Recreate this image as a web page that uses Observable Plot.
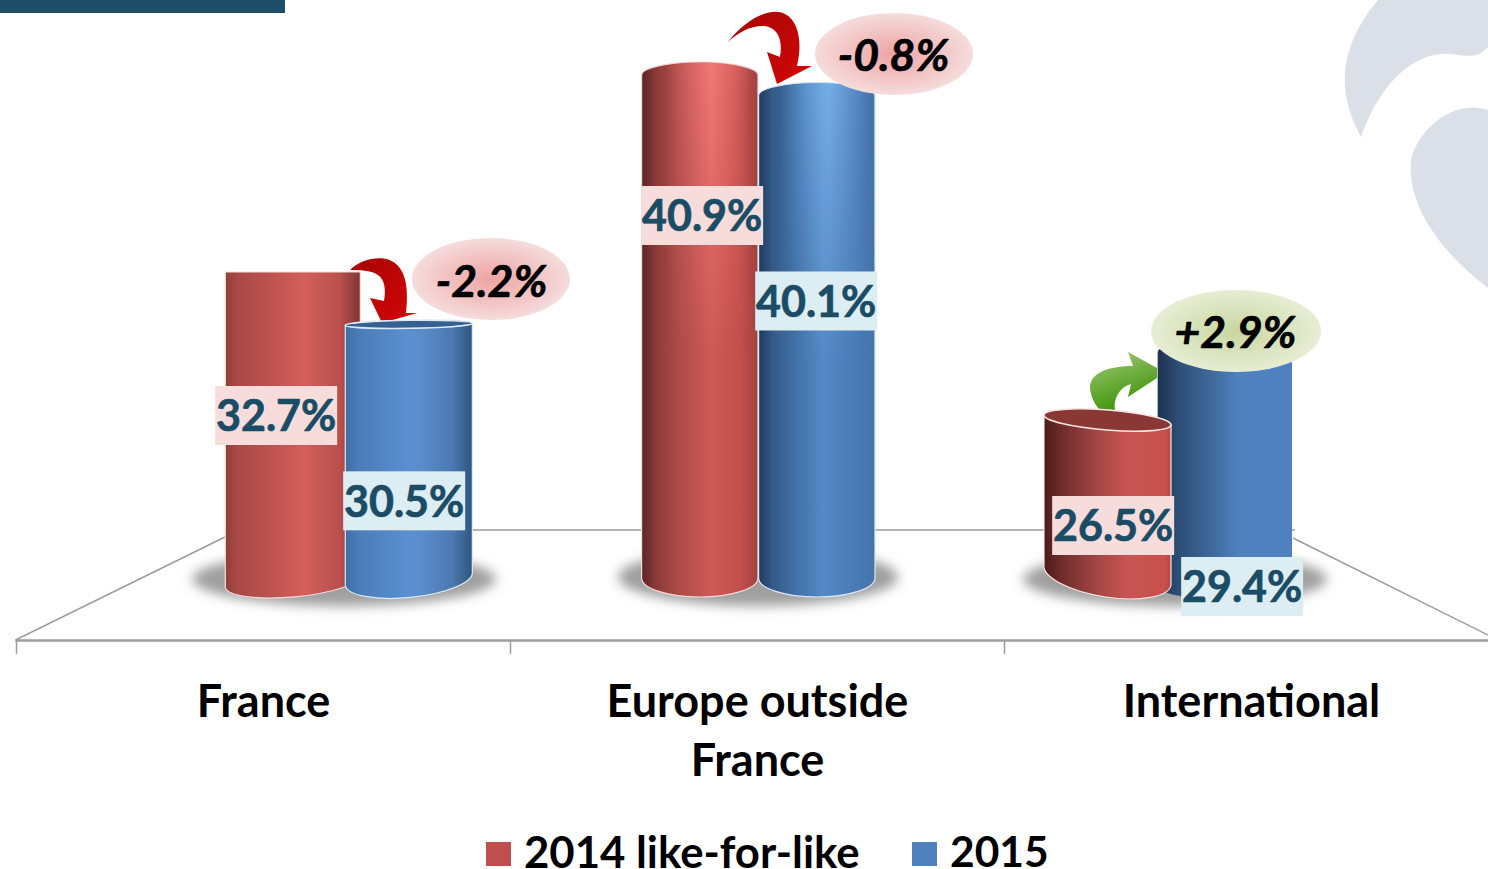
<!DOCTYPE html>
<html>
<head>
<meta charset="utf-8">
<script src="https://cdn.jsdelivr.net/npm/d3@7"></script>
<script src="https://cdn.jsdelivr.net/npm/@observablehq/plot@0.6"></script>
<style>
html,body{margin:0;padding:0;background:#fff;overflow:hidden}
svg{display:block}
#chart{position:relative;width:1488px;height:869px;overflow:hidden}
.legend-label{position:absolute;top:836px;height:30px;line-height:30px;white-space:nowrap;
  font-family:Lato,Carlito,Calibri,sans-serif;font-weight:700;color:#000}
.legend-swatch{position:absolute;top:842px;width:25px;height:24px}
</style>
</head>
<body>
<div id="chart"></div>
<script>
const categories = ["France", "Europe outside France", "International"];
const seriesNames = ["2014 like-for-like", "2015"];
const seriesColors = ["#c0504d", "#4f81bd"];
const values2014 = [32.7, 40.9, 26.5];
const values2015 = [30.5, 40.1, 29.4];
const changes = ["-2.2%", "-0.8%", "+2.9%"];

const FONT = "Lato, Carlito, Calibri, sans-serif";
const SVGNS = "http://www.w3.org/2000/svg";
const baseValue = 18.2;

const rows = categories.flatMap((c, i) => [
  {category: c, series: seriesNames[0], value: values2014[i]},
  {category: c, series: seriesNames[1], value: values2015[i]}
]);

// bar geometry: band insets and the cylinder's end-cap shape, in px
const looks = [
  {il:208.3, ir:150.67, tl:0, tr:0, tRy:0, bl:10, br:22, bRy:16,
   stops:[[0,"#8e3f3d"],[.08,"#a84845"],[.5,"#cc5a56"],[.58,"#d45f5b"],[.85,"#b84f4b"],[1,"#7d3533"]], edge:"#f3dcdc"},
  {il:328.3, ir:38.67, tl:4, tr:2, tRy:3, bl:12, br:25, bRy:19, cap:"#35608f", capRy:4,
   stops:[[0,"#3f6ea5"],[.1,"#4a7cb8"],[.5,"#5b8fd0"],[.6,"#5a8dcc"],[.85,"#4a78ae"],[1,"#2e5580"]], edge:"#dfe9f4"},
  {il:130.6, ir:247, tl:13, tr:13, tRy:13, bl:19, br:19, bRy:19, fade:"hhiRed",
   stops:[[0,"#5a2422"],[.12,"#8a3a38"],[.3,"#ab4a47"],[.6,"#cf5a56"],[.85,"#c24f4c"],[1,"#9e4240"]], edge:"#f3dcdc"},
  {il:247.6, ir:130, tl:13, tr:13, tRy:13, bl:19, br:19, bRy:19, fade:"hhiBlue",
   stops:[[0,"#1d3a5f"],[.12,"#345a87"],[.35,"#4474aa"],[.55,"#5389c6"],[.8,"#4b7cb8"],[1,"#4474aa"]], edge:"#dfe9f4"},
  {il:39, ir:328, tl:4, tr:14, tRy:10, bl:32, br:12, bRy:22, cap:"#8a3836", capRy:10,
   stops:[[0,"#4a1c1b"],[.12,"#6b2a28"],[.4,"#a04543"],[.65,"#c75552"],[.95,"#c9504c"],[1,"#b84540"]], edge:"#f8e6e2"},
  {il:152.67, ir:207, tl:6, tr:14, tRy:14, bl:12, br:25, bRy:18,
   stops:[[0,"#1f3352"],[.15,"#2c4d75"],[.45,"#426fa3"],[.6,"#5081bf"],[1,"#4f80bf"]]}
];
// value label placement, px relative to the band start and the bar's value
const labelPos = [
  {dx:259, dy:145}, {dx:387, dy:181}, {dx:191, dy:155}, {dx:305, dy:220}, {dx:108, dy:116}, {dx:237, dy:242}
];
const paintOrder = [0, 1, 2, 3, 5, 4];

function el(name, attrs, parent) {
  const n = document.createElementNS(SVGNS, name);
  for (const k in attrs) n.setAttribute(k, attrs[k]);
  if (parent) parent.appendChild(n);
  return n;
}

function defsMark() {
  const g = el("g", {});
  const defs = el("defs", {}, g);
  looks.forEach((l, i) => {
    const lg = el("linearGradient", {id:"bar" + i, x1:0, x2:1, y1:0, y2:0}, defs);
    l.stops.forEach(s => el("stop", {offset:s[0], "stop-color":s[1]}, lg));
  });
  // highlight that strengthens towards the top of the tall columns
  const v = el("linearGradient", {id:"vfade", x1:0, x2:0, y1:0, y2:1}, defs);
  el("stop", {offset:0, "stop-color":"#fff", "stop-opacity":1}, v);
  el("stop", {offset:.55, "stop-color":"#fff", "stop-opacity":0}, v);
  const m = el("mask", {id:"vmask", maskContentUnits:"objectBoundingBox", maskUnits:"objectBoundingBox", x:0, y:0, width:1, height:1}, defs);
  el("rect", {x:0, y:0, width:1, height:1, fill:"url(#vfade)"}, m);
  [["hhiRed", "#ff8484"], ["hhiBlue", "#84bdf4"]].forEach(([id, color]) => {
    const h = el("linearGradient", {id, x1:0, x2:1, y1:0, y2:0}, defs);
    el("stop", {offset:.2, "stop-color":color, "stop-opacity":0}, h);
    el("stop", {offset:.6, "stop-color":color, "stop-opacity":.7}, h);
    el("stop", {offset:.95, "stop-color":color, "stop-opacity":0}, h);
  });
  const red = el("radialGradient", {id:"bubRed"}, defs);
  el("stop", {offset:0, "stop-color":"#eea3a4"}, red);
  el("stop", {offset:1, "stop-color":"#f5dcdb"}, red);
  const grn = el("radialGradient", {id:"bubGreen"}, defs);
  el("stop", {offset:0, "stop-color":"#c8d6a0"}, grn);
  el("stop", {offset:1, "stop-color":"#e7edd4"}, grn);
  const ar = el("linearGradient", {id:"arRed", x1:0, x2:1, y1:0, y2:1}, defs);
  el("stop", {offset:0, "stop-color":"#a80404"}, ar);
  el("stop", {offset:1, "stop-color":"#d40606"}, ar);
  const ag = el("linearGradient", {id:"arGreen", x1:0, x2:.4, y1:0, y2:1}, defs);
  el("stop", {offset:0, "stop-color":"#a5cb7c"}, ag);
  el("stop", {offset:1, "stop-color":"#3f9408"}, ag);
  const blur = el("filter", {id:"blur", x:"-20%", y:"-50%", width:"140%", height:"200%"}, defs);
  el("feGaussianBlur", {stdDeviation:6}, blur);
  return g;
}

function backdropMark(index, scales) {
  const g = el("g", {});
  // watermark and the header band
  el("path", {fill:"#dbe0e8", d:"M1361,137 C1338,95 1336,50 1378,0 L1488,0 L1488,47 C1480,56 1472,57 1458,55 C1425,48 1385,70 1361,137 Z"}, g);
  el("path", {fill:"#dbe0e8", d:"M1488,110 C1460,100 1425,120 1412,155 C1405,190 1425,240 1488,288 Z"}, g);
  el("rect", {x:0, y:0, width:285, height:13, fill:"#1f4e69"}, g);
  // the chart floor
  const floor = "#9c9c9c";
  const line = (x1, y1, x2, y2, w) => el("line", {x1, y1, x2, y2, stroke:floor, "stroke-width":w}, g);
  line(15.5, 640.5, 1488, 640.5, 2.6);
  line(225, 530, 1295, 530, 1.5);
  line(15.5, 640, 225, 537, 1.5);
  line(1293, 538, 1490, 636, 1.5);
  const x0 = scales.x(categories[0]);
  categories.forEach(c => {
    const x = scales.x(c) - .5;
    line(x, 640, x, 654, 1.5);
  });
  // floor shadows under each pair of columns
  const step = scales.x(categories[1]) - x0;
  [[327, 152, 27, 579], [247, 140, 29, 577], [170, 152, 27, 579]].forEach((s, i) => {
    el("ellipse", {cx:x0 + i * step + s[0], cy:s[3], rx:s[1], ry:s[2], fill:"#9f9f9f", filter:"url(#blur)"}, g);
  });
  return g;
}

function arrowsMark() {
  const g = el("g", {});
  el("path", {fill:"url(#arRed)", d:"M350,270 C362,258 385,254 396,264 C408,274 408,295 406,313 L417,313 L382,323 L370,298 L384,301 C386,290 385,280 378,275 C370,270 360,270 350,270 Z"}, g);
  el("path", {fill:"url(#arRed)", d:"M728,42 C745,20 770,6 785,14 C800,22 802,45 797,66 L812,66 L777,84 L767,52 L780,57 C783,40 778,28 765,26 C752,25 738,32 728,42 Z"}, g);
  el("path", {fill:"url(#arGreen)", d:"M1157,368 L1128,352 L1133,366 C1110,366 1090,372 1090,388 C1091,398 1095,405 1101,411 L1115,411 C1113,400 1118,388 1131,384 L1128,397 L1157,378 Z"}, g);
  return g;
}

function cylinder(i) {
  const l = looks[i];
  return (idx, s, v, d, c, next) => {
    const g = next(idx, s, v, d, c);
    const r = g.querySelector("rect");
    const x0 = +r.getAttribute("x"), w = +r.getAttribute("width");
    const y = +r.getAttribute("y"), h = +r.getAttribute("height");
    const x1 = x0 + w, yb = y + h;
    const arc = (ya, yb2, ry, toX) => {
      const rot = Math.atan2(yb2 - ya, w) * 180 / Math.PI;
      const rx = Math.hypot(w, yb2 - ya) / 2;
      return `A${rx},${ry} ${rot} 0 1 ${toX},${yb2}`;
    };
    const top = l.tRy ? arc(y + l.tl, y + l.tr, l.tRy, x1) : `L${x1},${y + l.tr}`;
    const rotB = Math.atan2((yb - l.br) - (yb - l.bl), w) * 180 / Math.PI;
    const rxB = Math.hypot(w, l.bl - l.br) / 2;
    const dPath = `M${x0},${y + l.tl} ${top} L${x1},${yb - l.br} A${rxB},${l.bRy} ${rotB} 0 1 ${x0},${yb - l.bl} Z`;
    r.remove();
    g.removeAttribute("fill");
    const p = {d:dPath, fill:`url(#bar${i})`};
    if (l.edge) { p.stroke = l.edge; p["stroke-width"] = 1.2; }
    el("path", p, g);
    if (l.fade) el("path", {d:dPath, fill:`url(#${l.fade})`, mask:"url(#vmask)"}, g);
    if (l.cap) {
      const rot = Math.atan2(l.tr - l.tl, w) * 180 / Math.PI;
      el("ellipse", {
        cx:(x0 + x1) / 2, cy:y + (l.tl + l.tr) / 2, rx:Math.hypot(w, l.tr - l.tl) / 2, ry:l.capRy,
        transform:`rotate(${rot} ${(x0 + x1) / 2} ${y + (l.tl + l.tr) / 2})`,
        fill:l.cap, stroke:l.edge, "stroke-width":1.6
      }, g);
    }
    return g;
  };
}

function bubblesMark() {
  const g = el("g", {});
  el("ellipse", {cx:491, cy:279, rx:79, ry:41, fill:"url(#bubRed)"}, g);
  el("ellipse", {cx:894, cy:54, rx:79, ry:41, fill:"url(#bubRed)"}, g);
  el("ellipse", {cx:1236, cy:331, rx:85, ry:41, fill:"url(#bubGreen)"}, g);
  return g;
}

const barMarks = paintOrder.map(i => Plot.barY([rows[i]], {
  x:"category", y1:() => baseValue, y2:"value",
  insetLeft:looks[i].il, insetRight:looks[i].ir,
  fill:"series", render:cylinder(i)
}));

const labelMarks = rows.map((row, i) => Plot.text([row], {
  x:"category", y:"value", text:d => d.value.toFixed(1) + "%",
  dx:labelPos[i].dx - 247.33, dy:labelPos[i].dy,
  fill:"#1b4c66", stroke:"#1b4c66", strokeWidth:.7,
  fontSize:43, fontWeight:700, fontFamily:FONT,
  render(idx, s, v, d, c, next) {
    const g = next(idx, s, v, d, c);
    // the mark's group is already shifted by dx, dy and half a band
    const box = el("rect", {
      x:s.x(row.category) - 61, y:s.y(row.value) - 31.5, width:122, height:59,
      fill:i % 2 ? "#dcedf3" : "#f6dcdb", stroke:"none"
    });
    g.insertBefore(box, g.firstChild);
    return g;
  }
}));

const changeMarks = [
  {x:0, dx:227, y:32.7, dy:10, t:0},
  {x:1, dx:135, y:40.9, dy:-6, t:1},
  {x:2, dx:-17, y:29.4, dy:-13, t:2}
].map(o => Plot.text([changes[o.t]], {
  x:() => categories[o.x], y:() => o.y, text:d => d,
  dx:o.dx, dy:o.dy, fill:"#000", stroke:"#000", strokeWidth:.7,
  fontSize:44.5, fontWeight:700, fontStyle:"italic", fontFamily:FONT
}));

const chart = Plot.plot({
  width:1488, height:869,
  marginTop:0, marginLeft:0, marginRight:0, marginBottom:229,
  style:{background:"#fff", fontFamily:FONT},
  x:{type:"band", domain:categories, range:[16, 1500.01], padding:0, axis:null},
  y:{type:"linear", domain:[baseValue, 26.5, 32.7, 40.9], range:[597, 411, 272, 62], axis:null},
  color:{domain:seriesNames, range:seriesColors},
  marks:[
    defsMark,
    backdropMark,
    arrowsMark,
    ...barMarks,
    bubblesMark,
    ...labelMarks,
    ...changeMarks,
    Plot.axisX(categories, {
      tickSize:0, tickPadding:35, fontSize:45, fontWeight:700, fontFamily:FONT, fill:"#000", dx:-1,
      lineHeight:1.31, label:null, tickFormat:d => d.replace("outside ", "outside\n")
    })
  ]
});
const host = document.getElementById("chart");
host.appendChild(chart);

// the legend sits over the bottom of the picture
[[486, 524, 43.7], [912, 950, 42.5]].forEach(([sx, tx, size], i) => {
  const sw = document.createElement("div");
  sw.className = "legend-swatch";
  sw.style.left = sx + "px";
  sw.style.background = seriesColors[i];
  host.appendChild(sw);
  const t = document.createElement("div");
  t.className = "legend-label";
  t.style.left = tx + "px";
  t.style.fontSize = size + "px";
  t.textContent = seriesNames[i];
  host.appendChild(t);
});
</script>
</body>
</html>
